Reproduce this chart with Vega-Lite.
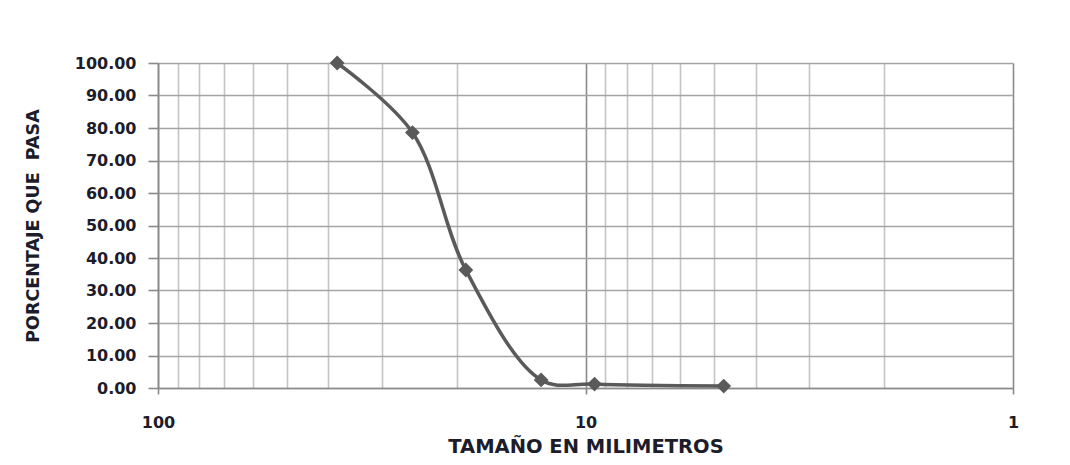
{
  "$schema": "https://vega.github.io/schema/vega-lite/v6.json",
  "width": 855,
  "height": 325,
  "autosize": "none",
  "padding": {"left": 158, "top": 63, "right": 57, "bottom": 77},
  "background": "white",
  "view": {"stroke": null},
  "config": {
    "font": "DejaVu Sans",
    "axis": {
      "labelFont": "DejaVu Sans",
      "labelFontWeight": "bold",
      "labelColor": "#1c1c2a",
      "titleFont": "DejaVu Sans",
      "titleFontWeight": "bold",
      "titleColor": "#1c1c2a"
    }
  },
  "data": {
    "values": [
      {"tamano": 38.1, "pasa": 100.0},
      {"tamano": 25.4, "pasa": 78.6},
      {"tamano": 19.05, "pasa": 36.3},
      {"tamano": 12.7, "pasa": 2.5},
      {"tamano": 9.525, "pasa": 1.2},
      {"tamano": 4.75, "pasa": 0.6}
    ]
  },
  "encoding": {
    "x": {
      "field": "tamano",
      "type": "quantitative",
      "title": "TAMAÑO EN MILIMETROS",
      "scale": {"type": "log", "domain": [1, 100], "reverse": true, "nice": false},
      "axis": {
        "values": [1, 2, 3, 4, 5, 6, 7, 8, 9, 10, 20, 30, 40, 50, 60, 70, 80, 90, 100],
        "format": "d",
        "labelExpr": "(datum.value == 1 || datum.value == 10 || datum.value == 100) ? datum.label : ''",
        "labelFontSize": 16,
        "labelPadding": 20,
        "labelFlush": false,
        "labelOverlap": false,
        "titleFontSize": 19.5,
        "titlePadding": 7,
        "grid": true,
        "gridColor": {"condition": {"test": "datum.value == 10 || datum.value == 1 || datum.value == 100", "value": "#8a8a8a"}, "value": "#c4c4c4"},
        "gridWidth": 1.6,
        "tickColor": {"condition": {"test": "datum.value == 10 || datum.value == 1 || datum.value == 100", "value": "#8a8a8a"}, "value": "transparent"},
        "tickSize": 6,
        "tickWidth": 1.6,
        "domainColor": "#8a8a8a",
        "domainWidth": 1.6
      }
    },
    "y": {
      "field": "pasa",
      "type": "quantitative",
      "title": "PORCENTAJE QUE\u00a0 PASA",
      "scale": {"domain": [0, 100], "nice": false},
      "axis": {
        "values": [0, 10, 20, 30, 40, 50, 60, 70, 80, 90, 100],
        "format": ".2f",
        "labelFontSize": 16,
        "labelPadding": 12,
        "titleFontSize": 17.5,
        "titlePadding": 32,
        "grid": true,
        "gridColor": "#a4a4a4",
        "gridWidth": 1.6,
        "tickColor": "#8a8a8a",
        "tickSize": 10,
        "tickWidth": 1.6,
        "domainColor": "#8a8a8a",
        "domainWidth": 1.6
      }
    }
  },
  "layer": [
    {
      "mark": {"type": "line", "interpolate": "catmull-rom", "color": "#5a5a5a", "strokeWidth": 3.5}
    },
    {
      "mark": {"type": "point", "shape": "diamond", "filled": true, "color": "#5a5a5a", "opacity": 1, "size": 220}
    }
  ]
}
